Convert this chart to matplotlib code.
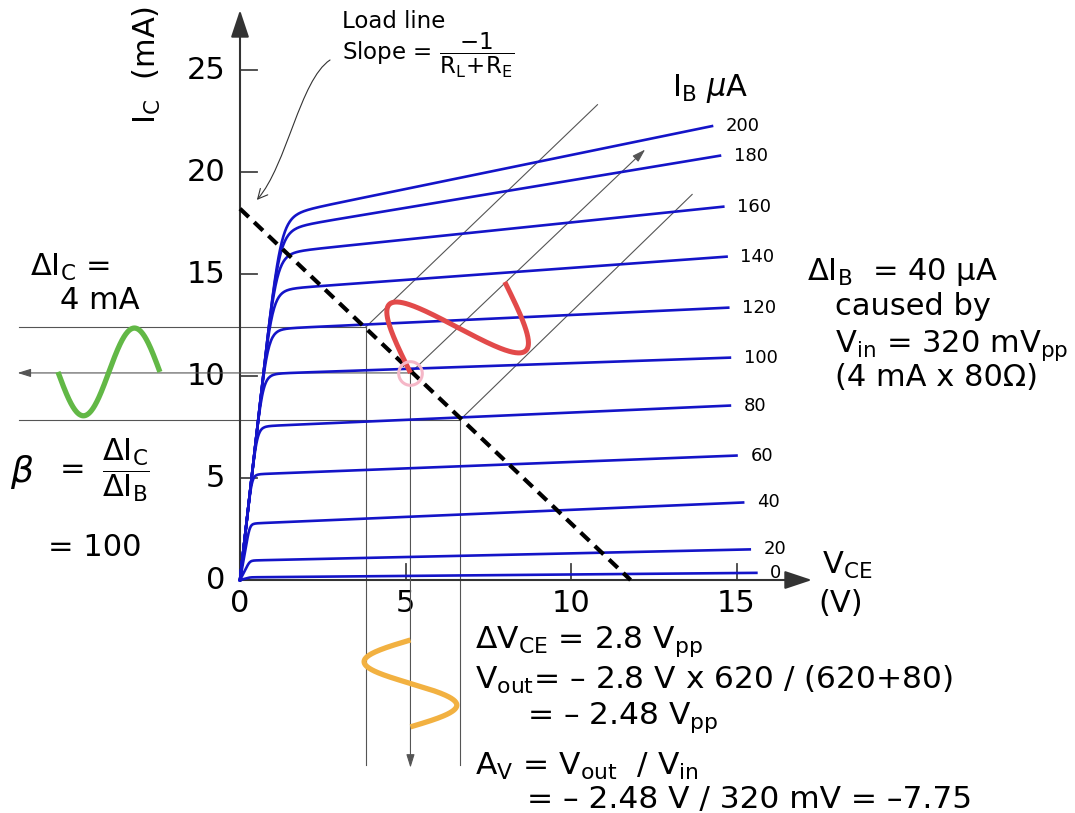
import numpy as np
import matplotlib
matplotlib.use('Agg')
import matplotlib.pyplot as plt
from matplotlib.patches import FancyArrowPatch
from matplotlib.path import Path

plt.rcParams['font.family'] = 'DejaVu Sans'
plt.rcParams['mathtext.fontset'] = 'dejavusans'
plt.rcParams['mathtext.default'] = 'regular'

# collector curves, one per base current (uA)
ib_labels = ['0', '20', '40', '60', '80', '100', '120', '140', '160', '180', '200']
ic_knee = [0.15, 1.0, 2.85, 5.25, 7.6, 10.15, 12.35, 14.3, 16.1, 17.3, 18.0]   # mA at ~1.5 V
ic_end = [0.35, 1.5, 3.8, 6.1, 8.55, 10.9, 13.35, 15.85, 18.3, 20.8, 22.25]    # mA at right end
v_end = [15.6, 15.4, 15.2, 15.0, 14.8, 14.8, 14.75, 14.7, 14.6, 14.5, 14.26]

x_ticks = [5, 10, 15]
y_ticks = [5, 10, 15, 20, 25]

# load line end points
load_v = [0, 11.8]
load_i = [18.2, 0]

# operating point and the two swing points on the load line
q_v, q_i = 5.15, 10.15
swing_v = [3.8, 5.15, 6.65]
swing_i = [12.4, 10.15, 7.85]
diag_end_v = [10.8, 12.24, 13.66]
diag_end_i = [23.3, 21.1, 18.9]

# waveforms
red_period_v, red_period_i = 2.85, 4.46
green_v0, green_v1, green_mid, green_amp = -5.5, -2.42, 10.2, 2.15
orange_i0, orange_i1, orange_mid, orange_amp = -2.94, -7.2, 5.15, 1.4

# pixel mapping of the original drawing
PX_V, PX_I = 33.1, 20.4
X0, Y0 = 240, 580
W, H = 1075, 813

BLUE = '#1414c8'
GREY = '#555555'

fig = plt.figure(figsize=(W / 100, H / 100), dpi=100)
ax = fig.add_axes([0, 0, 1, 1])
ax.set_xlim(-X0 / PX_V, (W - X0) / PX_V)
ax.set_ylim(-(H - Y0) / PX_I, Y0 / PX_I)
ax.axis('off')


def ic_curve(v, ik, ie, ve):
    s = (ie - ik) / (ve - 1.5)
    flat = ik + s * (v - 1.5)
    vk = max(ik / 14.5, 0.3)
    x = v / vk
    return flat * x / (1 + x ** 8) ** (1 / 8)


# axes
arrow_kw = dict(arrowstyle='-|>,head_length=0.6,head_width=0.2', color='#333333',
                lw=1.5, mutation_scale=28, shrinkA=0, shrinkB=0)
ax.annotate('', xy=(0, 27.94), xytext=(0, 0), arrowprops=arrow_kw)
ax.annotate('', xy=(17.28, 0), xytext=(0, 0), arrowprops=arrow_kw)
for t in x_ticks:
    ax.plot([t, t], [0, 0.8], color='#444444', lw=1.3)
    ax.text(t, -0.45, str(t), ha='center', va='top', fontsize=22)
ax.text(0, -0.45, '0', ha='center', va='top', fontsize=22)
for t in y_ticks:
    ax.plot([0, 0.5], [t, t], color='#444444', lw=1.3)
    ax.text(-0.45, t, str(t), ha='right', va='center', fontsize=22)
ax.text(-0.45, 0, '0', ha='right', va='center', fontsize=22)

ax.text(-2.81, 25.25, r'I$_C$  (mA)', rotation=90, ha='center', va='center', fontsize=22)
ax.text(17.58, 0.7, r'V$_{CE}$', ha='left', va='center', fontsize=22)
ax.text(17.46, -1.13, '(V)', ha='left', va='center', fontsize=22)
ax.text(13.05, 24.1, r'I$_B$ $\mathit{\mu}$A', ha='left', va='center', fontsize=22)

# projection lines
thin = dict(color=GREY, lw=0.8)
ax.plot([-6.68, swing_v[0]], [swing_i[0]] * 2, **thin)
ax.plot([-6.68, swing_v[2]], [swing_i[2]] * 2, **thin)
small_arrow = dict(arrowstyle='-|>,head_length=0.8,head_width=0.25', color=GREY,
                   lw=0.8, mutation_scale=10, shrinkA=0, shrinkB=0)
ax.annotate('', xy=(-6.72, swing_i[1]), xytext=(swing_v[1], swing_i[1]), arrowprops=small_arrow)
ax.plot([swing_v[0]] * 2, [swing_i[0], -9.07], **thin)
ax.plot([swing_v[2]] * 2, [swing_i[2], -9.07], **thin)
ax.annotate('', xy=(swing_v[1], -9.2), xytext=(swing_v[1], swing_i[1]), arrowprops=small_arrow)
ax.plot([swing_v[0], diag_end_v[0]], [swing_i[0], diag_end_i[0]], **thin)
ax.plot([swing_v[2], diag_end_v[2]], [swing_i[2], diag_end_i[2]], **thin)
ax.annotate('', xy=(diag_end_v[1], diag_end_i[1]), xytext=(swing_v[1], swing_i[1]),
            arrowprops=small_arrow)

# characteristic curves
for lab, ik, ie, ve in zip(ib_labels, ic_knee, ic_end, v_end):
    v = np.linspace(0, ve, 600)
    ax.plot(v, ic_curve(v, ik, ie, ve), color=BLUE, lw=1.9, zorder=3)
    ax.annotate(lab, xy=(ve, ie), xytext=(10, 0), textcoords='offset points',
                ha='left', va='center', fontsize=13)

# load line
ax.plot(load_v, load_i, color='black', lw=3, linestyle=(0, (2.9, 1.8)), zorder=4)

# input swing along the load line
s = np.linspace(0, 1, 300)
uv, ui = swing_v[0] - q_v, swing_i[0] - q_i
ax.plot(q_v + s * red_period_v + np.sin(2 * np.pi * s) * uv,
        q_i + s * red_period_i + np.sin(2 * np.pi * s) * ui,
        color='#e24a4a', lw=3.6, solid_capstyle='butt', zorder=5)
ax.plot([q_v], [q_i], 'o', ms=17, mfc='none', mec='#f5b7c7', mew=2.2, zorder=6)

# output current (left) and output voltage (bottom)
gv = np.linspace(green_v0, green_v1, 300)
ax.plot(gv, green_mid - green_amp * np.sin(2 * np.pi * (gv - green_v0) / (green_v1 - green_v0)),
        color='#62b846', lw=3.8, solid_capstyle='butt', zorder=5)
oi = np.linspace(orange_i0, orange_i1, 300)
ax.plot(orange_mid - orange_amp * np.sin(2 * np.pi * (oi - orange_i0) / (orange_i1 - orange_i0)), oi,
        color='#f2b141', lw=3.8, solid_capstyle='butt', zorder=5)

# load line note
ax.text(3.08, 27.4, 'Load line', ha='left', va='center', fontsize=16.5)
ax.text(3.08, 25.7, r'Slope = $\dfrac{-1}{R_L\!+\!R_E}$', ha='left', va='center', fontsize=16.5)
bez = Path([(2.72, 25.49), (1.81, 24.51), (1.42, 20.34), (0.51, 18.63)],
           [Path.MOVETO, Path.CURVE4, Path.CURVE4, Path.CURVE4])
ax.add_patch(FancyArrowPatch(path=bez, arrowstyle='->,head_length=0.5,head_width=0.25',
                             mutation_scale=14, color='#333333', lw=0.8))

# left notes
ax.text(-6.34, 15.3, r'$\Delta I_C$ =', ha='left', va='center', fontsize=22)
ax.text(-5.44, 13.7, '4 mA', ha='left', va='center', fontsize=22)
ax.text(-6.95, 5.3, r'$\mathit{\beta}$', ha='left', va='center', fontsize=26)
ax.text(-5.45, 5.4, '=', ha='left', va='center', fontsize=22)
ax.text(-3.45, 5.4, r'$\dfrac{\Delta I_C}{\Delta I_B}$', ha='center', va='center', fontsize=22)
ax.text(-5.8, 1.57, '= 100', ha='left', va='center', fontsize=22)

# right notes
ax.text(17.13, 15.1, r'$\Delta I_B$  = 40 µA', ha='left', va='center', fontsize=22)
ax.text(17.98, 13.4, 'caused by', ha='left', va='center', fontsize=22)
ax.text(17.98, 11.5, r'V$_{in}$ = 320 mV$_{pp}$', ha='left', va='center', fontsize=22)
ax.text(17.98, 9.95, '(4 mA x 80Ω)', ha='left', va='center', fontsize=22)

# bottom notes
ax.text(7.1, -3.04, r'$\Delta V_{CE}$ = 2.8 V$_{pp}$', ha='left', va='center', fontsize=22.5)
ax.text(7.1, -4.9, r'V$_{out}$= – 2.8 V x 620 / (620+80)', ha='left', va='center', fontsize=22.5)
ax.text(8.67, -6.72, r'= – 2.48 V$_{pp}$', ha='left', va='center', fontsize=22.5)
ax.text(7.1, -9.12, r'A$_V$ = V$_{out}$  / V$_{in}$', ha='left', va='center', fontsize=22.5)
ax.text(8.67, -10.78, '= – 2.48 V / 320 mV = –7.75', ha='left', va='center', fontsize=22.5)

fig.savefig('out.png', dpi=100)
